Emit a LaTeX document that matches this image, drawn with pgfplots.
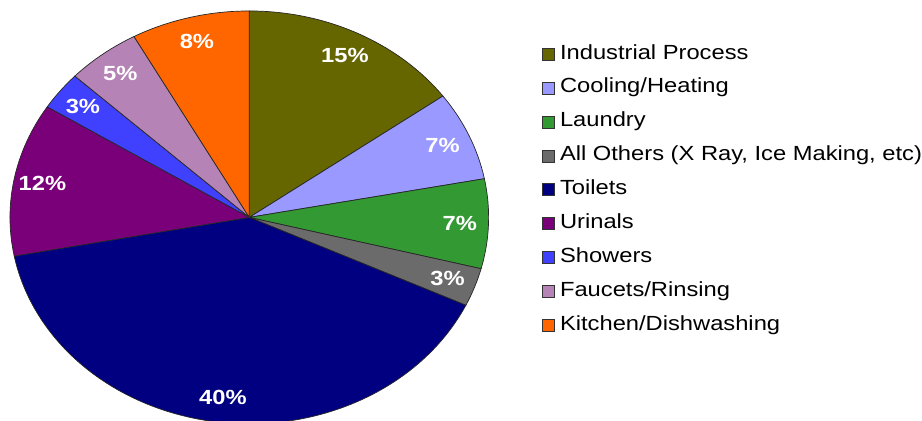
\documentclass[border=0pt]{standalone}
\usepackage{pgfplots}
\pgfplotsset{compat=1.18}
\usepackage{fontspec}
\setmainfont[FakeStretch=1.16]{Liberation Sans}

\definecolor{cInd}{HTML}{666600}
\definecolor{cCool}{HTML}{9999FF}
\definecolor{cLaun}{HTML}{339933}
\definecolor{cOth}{HTML}{6B6B6B}
\definecolor{cToi}{HTML}{000080}
\definecolor{cUri}{HTML}{7A007A}
\definecolor{cSho}{HTML}{4040FF}
\definecolor{cFau}{HTML}{B583B5}
\definecolor{cKit}{HTML}{FF6600}

\tikzset{
  pct/.style={text=white, font=\fontsize{20.5}{23}\selectfont\bfseries, inner sep=0pt},
  slice/.style={draw=black!85, line width=0.7pt},
}

\begin{document}
\begin{tikzpicture}
\begin{axis}[
  hide axis,
  x=1pt, y=1pt,
  xmin=0, xmax=922, ymin=0, ymax=422,
  clip=true,
  legend cell align=left,
  legend image code/.code={\filldraw[#1] (0pt,-6pt) rectangle (12pt,6pt);},
  legend style={draw=none, fill=none, inner sep=0pt,
                at={(543/922,377/422)}, anchor=north west,
                row sep=16pt, column sep=6pt,
                font=\fontsize{20.5}{23}\selectfont,
                nodes={inner sep=0pt, text height=14pt, text depth=4pt}},
]
\path (axis cs:0,0) rectangle (axis cs:922,422);

% slices, clockwise from 12 o'clock; value / colour
\foreach \v/\c [remember=\e as \s (initially 90)] in
  {15/cInd, 7/cCool, 7/cLaun, 3/cOth, 40/cToi, 12/cUri, 3/cSho, 5/cFau, 8/cKit} {
  \pgfmathsetmacro\e{\s-3.6*\v}
  \pgfmathsetmacro\m{(\s+\e)/2}
  \pgfmathsetmacro\lx{250+0.88*240*cos(\m)}
  \pgfmathsetmacro\ly{204+0.88*207*sin(\m)}
  \edef\temp{%
    \noexpand\filldraw[slice, fill=\c] (axis cs:250,204) -- ++(\s:240pt and 207pt)
      arc[start angle=\s, end angle=\e, x radius=240pt, y radius=207pt] -- cycle;
    \noexpand\node[pct] at (axis cs:\lx,\ly) {\v\noexpand\%};
  }
  \temp
}

\addlegendimage{fill=cInd, draw=black!80}\addlegendentry{Industrial Process}
\addlegendimage{fill=cCool, draw=black!80}\addlegendentry{Cooling/Heating}
\addlegendimage{fill=cLaun, draw=black!80}\addlegendentry{Laundry}
\addlegendimage{fill=cOth, draw=black!80}\addlegendentry{All Others (X Ray, Ice Making, etc)}
\addlegendimage{fill=cToi, draw=black!80}\addlegendentry{Toilets}
\addlegendimage{fill=cUri, draw=black!80}\addlegendentry{Urinals}
\addlegendimage{fill=cSho, draw=black!80}\addlegendentry{Showers}
\addlegendimage{fill=cFau, draw=black!80}\addlegendentry{Faucets/Rinsing}
\addlegendimage{fill=cKit, draw=black!80}\addlegendentry{Kitchen/Dishwashing}
\end{axis}
\end{tikzpicture}
\end{document}
